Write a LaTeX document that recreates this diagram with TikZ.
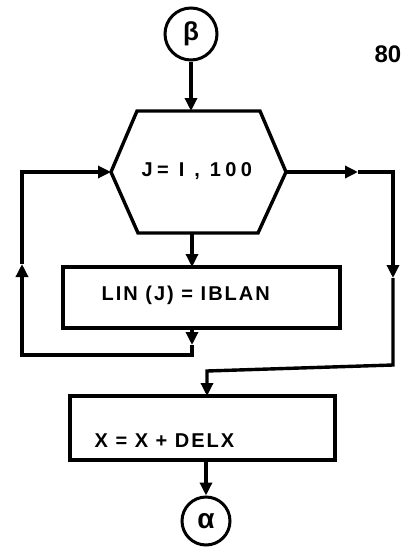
\documentclass[tikz,border=0pt]{standalone}
\usepackage{fontspec}
\setmainfont{Liberation Sans}
\usetikzlibrary{arrows.meta}
\begin{document}
\begin{tikzpicture}[x=1pt,y=-1pt,line width=3.4pt,line join=miter,
  arr/.style={-{Triangle[length=13pt,width=12pt]}},
  box/.style={draw,inner sep=0pt,line width=3.4pt},
  conn/.style={draw,circle,inner sep=0pt,line width=3pt},
  lbl/.style={inner sep=0pt,anchor=west,font=\bfseries\fontsize{20}{20}\selectfont}]
\useasboundingbox (0,0) rectangle (411,552);
% start connector
\node[conn,minimum size=52pt] (beta) at (191,34) {\bfseries\fontsize{26}{26}\selectfont β};
% hexagon
\coordinate (h1) at (137,111);
\coordinate (h2) at (260,111);
\coordinate (hR) at (286,172);
\coordinate (h4) at (258,233);
\coordinate (h5) at (138,233);
\coordinate (hL) at (111,172);
\draw (h1) -- (h2) -- (hR) -- (h4) -- (h5) -- (hL) -- cycle;
\node[lbl] (jtxt) at (140,171) {\addfontfeature{LetterSpace=22}J= I , 100};
\coordinate (hexTop) at (191,111);
\coordinate (hexBot) at (192,233);
% LIN box
\node[box,minimum width=277pt,minimum height=61pt] (lin) at (201.5,297.5) {};
\node[lbl] (lintxt) at (100,295) {\addfontfeature{LetterSpace=10}LIN (J) = IBLAN};
\coordinate (linTop) at (192,267);
\coordinate (linBot) at (192,328);
% X box
\node[box,minimum width=265pt,minimum height=64pt] (xbox) at (202.5,428) {};
\node[lbl] (xtxt) at (93,441) {\addfontfeature{LetterSpace=10}X = X + DELX};
\coordinate (xTop) at (207,396);
\coordinate (xBot) at (206,460);
% end connector
\node[conn,minimum size=48pt] (alpha) at (206,521) {\bfseries\fontsize{28}{28}\selectfont α};
% page number
\node[inner sep=0pt,font=\bfseries\fontsize{24}{24}\selectfont] (pg) at (388,54) {80};
% loop coordinates
\coordinate (la1) at (192,345);
\coordinate (lc1) at (192,355);
\coordinate (lc2) at (22,355);
\coordinate (la2) at (22,264);
\coordinate (lc3) at (22,172);
% exit coordinates
\coordinate (ra1) at (358,172);
\coordinate (rc1) at (393,172);
\coordinate (ra2) at (393,278);
\coordinate (rc2) at (393,365);
\coordinate (rc3) at (207,371);
% connectors
\draw[arr] (beta.south) -- (hexTop);
\draw[arr] (hexBot) -- (linTop);
\draw[arr] (linBot) -- (la1);
\draw[arr] (la1) -- (lc1) -- (lc2) -- (la2);
\draw[arr] (la2) -- (lc3) -- (hL);
\draw[arr] (hR) -- (ra1);
\draw[arr] (ra1) -- (rc1) -- (ra2);
\draw[arr] (ra2) -- (rc2) -- (rc3) -- (xTop);
\draw[arr] (xBot) -- (alpha.north);
\end{tikzpicture}
\end{document}
